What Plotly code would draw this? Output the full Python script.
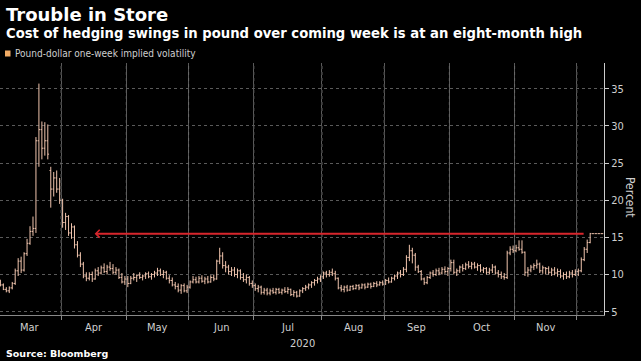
import pandas as pd
import plotly.graph_objects as go

# ---- data: pound-dollar one-week implied volatility (daily OHLC, trading days) ----
dates = pd.bdate_range("2020-03-03", "2020-12-11")

vol_open = [
    # Mar
    9.0, 8.6, 8.0, 7.8, 8.2, 8.8, 10.5, 11.8, 10.6, 12.8, 14.2, 15.8, 16.2, 28.0, 29.5, 27.0, 28.0, 24.0, 21.5, 23.0, 21.5,
    # Apr
    20.0, 17.0, 17.8, 15.6, 16.4, 14.0, 12.6, 11.4, 9.8, 9.5, 10.0, 9.4, 10.5, 10.2, 10.9, 10.4, 11.0, 10.8, 10.3, 10.6, 9.6, 9.0,
    # May
    9.4, 8.8, 9.5, 9.6, 9.9, 9.6, 9.8, 10.1, 9.7, 10.0, 10.2, 10.5, 10.0, 10.3, 9.5, 9.2, 8.6, 8.4, 7.9, 8.5, 7.8,
    # Jun
    8.3, 9.0, 9.3, 9.0, 9.5, 9.1, 9.4, 9.0, 9.6, 9.4, 11.8, 12.5, 11.2, 11.0, 10.4, 10.6, 10.0, 10.5, 9.6, 9.3, 9.6, 8.8,
    # Jul
    8.5, 8.1, 8.3, 7.6, 7.9, 7.5, 7.8, 7.6, 8.0, 7.6, 7.9, 7.7, 8.0, 7.3, 7.6, 7.1, 7.8, 8.1, 8.3, 8.6, 8.9, 9.2, 9.4,
    # Aug
    9.7, 10.2, 10.0, 10.3, 10.1, 9.5, 8.2, 8.0, 8.3, 7.9, 8.4, 8.1, 8.5, 8.2, 8.6, 8.3, 8.7, 8.4, 8.8, 8.6, 8.9,
    # Sep
    8.7, 9.2, 9.0, 9.5, 9.8, 10.2, 10.0, 10.7, 12.3, 13.2, 12.6, 11.0, 10.4, 9.4, 8.9, 9.6, 10.2, 10.0, 10.5, 10.2, 10.7, 10.4,
    # Oct
    10.8, 11.6, 10.3, 10.5, 11.0, 10.8, 11.3, 11.1, 11.4, 11.0, 11.2, 10.6, 10.8, 10.3, 10.6, 11.0, 10.2, 10.0, 9.7, 9.6, 12.9, 13.4,
    # Nov
    13.2, 13.6, 13.4, 13.0, 10.3, 10.6, 11.0, 11.2, 11.4, 10.5, 10.9, 10.8, 10.3, 10.6, 10.2, 10.4, 9.8, 10.0, 9.7, 10.2, 10.0,
    # Dec
    10.4, 10.5, 12.0, 13.4, 14.3, 15.5, 15.5, 15.5, 15.5,
]
vol_high = [
    9.3, 8.8, 8.3, 8.4, 9.0, 10.8, 12.2, 12.4, 13.0, 14.8, 16.5, 17.8, 28.5, 35.7, 30.6, 30.5, 30.2, 24.5, 23.8, 24.0, 23.0,
    20.2, 18.3, 18.0, 16.9, 16.6, 14.5, 13.0, 11.7, 10.3, 10.3, 10.4, 10.8, 11.0, 11.2, 11.5, 11.3, 11.7, 11.4, 11.0, 10.8, 10.2, 9.8,
    9.8, 9.8, 10.2, 10.0, 10.3, 10.0, 10.3, 10.4, 10.2, 10.5, 10.9, 10.8, 10.6, 10.5, 9.9, 9.6, 9.0, 8.8, 8.7, 8.8, 8.6,
    9.2, 9.8, 9.7, 9.8, 9.9, 9.7, 9.8, 9.9, 10.0, 12.0, 13.6, 13.0, 11.8, 11.3, 11.0, 11.0, 10.8, 10.7, 10.2, 10.0, 9.8, 9.2,
    8.8, 8.6, 8.5, 8.2, 8.2, 8.1, 8.2, 8.2, 8.2, 8.1, 8.3, 8.3, 8.1, 7.9, 7.8, 8.0, 8.3, 8.6, 8.8, 9.1, 9.4, 9.7, 9.9,
    10.4, 10.5, 10.6, 10.8, 10.5, 9.6, 8.6, 8.5, 8.6, 8.5, 8.6, 8.7, 8.7, 8.8, 8.8, 8.9, 8.9, 9.0, 9.1, 9.1, 9.2,
    9.4, 9.6, 9.7, 10.0, 10.4, 10.6, 11.0, 12.6, 14.0, 13.6, 12.9, 11.3, 10.6, 9.6, 9.8, 10.4, 10.6, 10.8, 10.9, 11.0, 11.1, 11.0,
    12.0, 12.0, 10.8, 11.2, 11.4, 11.6, 11.8, 11.7, 11.7, 11.5, 11.4, 11.0, 11.0, 10.9, 11.4, 11.2, 10.6, 10.4, 10.2, 13.2, 13.8, 13.9,
    14.0, 14.6, 14.6, 13.1, 11.0, 11.3, 11.5, 12.0, 11.6, 11.2, 11.0, 11.1, 10.9, 11.0, 10.8, 10.7, 10.3, 10.4, 10.5, 10.6, 10.7,
    10.8, 12.3, 13.7, 14.7, 15.6, 15.5, 15.5, 15.5, 15.5,
]
vol_low = [
    8.4, 7.9, 7.6, 7.5, 8.0, 8.6, 9.8, 10.2, 10.4, 12.5, 14.0, 15.2, 15.6, 24.5, 25.5, 26.0, 25.5, 19.0, 20.5, 21.0, 19.5,
    16.3, 16.0, 15.2, 14.8, 13.5, 12.3, 11.0, 9.5, 9.1, 9.2, 9.0, 9.3, 9.8, 10.0, 10.2, 10.0, 10.5, 10.0, 10.0, 9.4, 8.8, 8.6,
    8.3, 8.7, 9.2, 9.0, 9.4, 9.2, 9.4, 9.5, 9.3, 9.6, 9.8, 9.8, 9.5, 9.3, 8.8, 8.4, 8.0, 7.6, 7.4, 7.6, 7.5,
    8.1, 8.8, 8.8, 8.8, 8.9, 8.7, 8.8, 8.9, 9.1, 9.3, 11.4, 10.8, 10.3, 10.0, 9.8, 9.7, 9.5, 9.3, 9.0, 8.8, 8.5, 8.2,
    7.8, 7.6, 7.3, 7.3, 7.2, 7.2, 7.4, 7.3, 7.4, 7.3, 7.5, 7.4, 7.1, 7.0, 6.9, 7.0, 7.5, 7.8, 8.0, 8.2, 8.5, 8.8, 9.0,
    9.4, 9.6, 9.7, 9.8, 9.2, 8.0, 7.7, 7.6, 7.7, 7.8, 7.9, 8.0, 7.9, 8.1, 8.0, 8.2, 8.1, 8.3, 8.3, 8.5, 8.5,
    8.6, 8.8, 8.9, 9.2, 9.4, 9.6, 9.8, 10.3, 11.8, 11.5, 10.5, 10.2, 9.2, 8.6, 8.7, 9.4, 9.7, 9.8, 9.9, 10.0, 10.1, 9.8,
    10.4, 10.0, 9.8, 10.2, 10.4, 10.6, 10.8, 10.7, 10.8, 10.5, 10.3, 10.2, 10.0, 10.0, 10.2, 10.0, 9.6, 9.4, 9.3, 9.4, 12.6, 12.9,
    13.0, 13.2, 12.8, 9.8, 9.7, 10.3, 10.6, 10.8, 10.2, 10.1, 10.0, 10.0, 9.8, 9.9, 9.7, 9.5, 9.3, 9.4, 9.5, 9.6, 9.8,
    9.8, 10.3, 11.8, 12.9, 14.2, 15.5, 15.5, 15.5, 15.5,
]
vol_close = [
    8.6, 8.0, 7.8, 8.2, 8.8, 10.5, 11.8, 10.6, 12.8, 14.2, 15.8, 16.2, 28.0, 29.5, 27.0, 28.0, 26.2, 21.5, 23.0, 21.5, 20.0,
    17.0, 17.8, 15.6, 16.4, 14.0, 12.6, 11.4, 9.8, 9.5, 10.0, 9.4, 10.5, 10.2, 10.9, 10.4, 11.0, 10.8, 10.3, 10.6, 9.6, 9.0, 9.4,
    8.8, 9.5, 9.6, 9.9, 9.6, 9.8, 10.1, 9.7, 10.0, 10.2, 10.5, 10.0, 10.3, 9.5, 9.2, 8.6, 8.4, 7.9, 8.5, 7.8, 8.3,
    9.0, 9.3, 9.0, 9.5, 9.1, 9.4, 9.0, 9.6, 9.4, 11.8, 12.5, 11.2, 11.0, 10.4, 10.6, 10.0, 10.5, 9.6, 9.3, 9.6, 8.8, 8.5,
    8.1, 8.3, 7.6, 7.9, 7.5, 7.8, 7.6, 8.0, 7.6, 7.9, 7.7, 8.0, 7.3, 7.6, 7.1, 7.8, 8.1, 8.3, 8.6, 8.9, 9.2, 9.4, 9.7,
    10.2, 10.0, 10.3, 10.1, 9.5, 8.2, 8.0, 8.3, 7.9, 8.4, 8.1, 8.5, 8.2, 8.6, 8.3, 8.7, 8.4, 8.8, 8.6, 8.9, 8.7,
    9.2, 9.0, 9.5, 9.8, 10.2, 10.0, 10.7, 12.3, 13.2, 12.6, 11.0, 10.4, 9.4, 8.9, 9.6, 10.2, 10.0, 10.5, 10.2, 10.7, 10.4, 10.8,
    11.6, 10.3, 10.5, 11.0, 10.8, 11.3, 11.1, 11.4, 11.0, 11.2, 10.6, 10.8, 10.3, 10.6, 11.0, 10.2, 10.0, 9.7, 9.6, 12.9, 13.4, 13.2,
    13.6, 13.4, 13.0, 10.3, 10.6, 11.0, 11.2, 11.4, 10.5, 10.9, 10.8, 10.3, 10.6, 10.2, 10.4, 9.8, 10.0, 9.7, 10.2, 10.0, 10.4,
    10.5, 12.0, 13.4, 14.3, 15.5, 15.5, 15.5, 15.5, 15.5,
]

series_name = "Pound-dollar one-week implied volatility"
title_text = "Trouble in Store"
subtitle_text = "Cost of hedging swings in pound over coming week is at an eight-month high"
source_text = "Source: Bloomberg"
year_label = "2020"
y_ticks = [5, 10, 15, 20, 25, 30, 35]
month_labels = ["Mar", "Apr", "May", "Jun", "Jul", "Aug", "Sep", "Oct", "Nov"]

# x axis runs on trading-day index (Bloomberg style, no weekend gaps)
day_idx = list(range(len(dates)))
x_range = [-0.13, 203.67]
y_range = [4.55, 38.47]
arrow_tail = 197.3
arrow_tip = 31.8
arrow_level = vol_close[-1]

months = pd.Series(dates.month)
# gridlines/ticks at each month boundary, labels at the middle of each month
boundaries = [float(months[months == m].index[0]) - 0.5 for m in range(4, 13)]
label_pos = [float(months[months == m].index[0] + months[months == m].index[-1]) / 2 for m in range(3, 12)]

# ---- layout geometry (pixels) ----
W, H = 641, 361
ML, MR, MT, MB = 0, 37, 63, 46
PW, PH = W - ML - MR, H - MT - MB


def px(xp):
    return (xp - ML) / PW


def py(yp):
    return (H - MB - yp) / PH


BAR = "#f0c4ad"
ORANGE = "#f2ac66"
GRID = "#5a5a5a"
VGRID = "#707070"
TXT = "#cfcfcf"
TICKFONT = "DejaVu Sans Condensed, Liberation Sans Narrow, Liberation Sans, sans-serif"

# month-boundary gridlines drawn as a line trace (below the bars)
gx, gy = [], []
for b in boundaries:
    gx += [b, b, None]
    gy += [y_range[0], y_range[1], None]

fig = go.Figure()
fig.add_trace(go.Scatter(
    x=gx, y=gy, mode="lines", line=dict(color=VGRID, width=1, dash="dot"),
    showlegend=False, hoverinfo="skip",
))
# month-boundary tick marks below the axis line
fig.add_trace(go.Scatter(
    x=boundaries, y=[y_range[0] - 0.27] * len(boundaries), mode="markers",
    marker=dict(symbol="line-ns-open", size=4, line=dict(color="#888888", width=1)),
    cliponaxis=False, showlegend=False, hoverinfo="skip",
))
fig.add_trace(go.Ohlc(
    x=day_idx, open=vol_open, high=vol_high, low=vol_low, close=vol_close,
    increasing=dict(line=dict(color=BAR, width=1)),
    decreasing=dict(line=dict(color=BAR, width=1)),
    tickwidth=0.42, name=series_name, showlegend=False, hoverinfo="skip",
))

fig.update_layout(
    width=W, height=H,
    margin=dict(l=ML, r=MR, t=MT, b=MB),
    paper_bgcolor="black", plot_bgcolor="black",
    showlegend=False,
    xaxis=dict(
        type="linear", range=x_range,
        rangeslider=dict(visible=False),
        tickmode="array", tickvals=boundaries, ticktext=[" "] * len(boundaries),
        ticks="outside", ticklen=4, tickcolor="#888888",
        showgrid=True, gridcolor=GRID, griddash="dot", gridwidth=1,
        showline=True, linecolor="#888888", linewidth=1,
        tickfont=dict(family=TICKFONT, size=11, color=TXT),
        zeroline=False,
    ),
    yaxis=dict(
        side="right", range=y_range, tickvals=y_ticks,
        ticks="outside", ticklen=4, tickcolor="#cccccc",
        showgrid=True, gridcolor=GRID, griddash="dot", gridwidth=1,
        showline=True, linecolor="#cccccc", linewidth=1,
        tickfont=dict(family=TICKFONT, size=11, color=TXT),
        zeroline=False,
    ),
)

annotations = [
    dict(x=px(4), y=py(14), xref="paper", yref="paper", xanchor="left", yanchor="middle",
         text=title_text, showarrow=False,
         font=dict(family="DejaVu Sans", size=18, color="white", weight="bold")),
    dict(x=px(4), y=py(34), xref="paper", yref="paper", xanchor="left", yanchor="middle",
         text=subtitle_text, showarrow=False,
         font=dict(family="DejaVu Sans", size=13.2, color="white", weight="bold")),
    dict(x=px(13), y=py(53.5), xref="paper", yref="paper", xanchor="left", yanchor="middle",
         text=series_name, showarrow=False,
         font=dict(family=TICKFONT, size=10, color=TXT)),
    dict(x=px(630), y=py(197), xref="paper", yref="paper", xanchor="center", yanchor="middle",
         text="Percent", textangle=90, showarrow=False,
         font=dict(family=TICKFONT, size=12, color=TXT)),
    dict(x=px(302), y=py(343), xref="paper", yref="paper", xanchor="center", yanchor="middle",
         text=year_label, showarrow=False,
         font=dict(family=TICKFONT, size=11, color=TXT)),
    dict(x=px(4), y=py(353), xref="paper", yref="paper", xanchor="left", yanchor="middle",
         text=source_text, showarrow=False,
         font=dict(family="DejaVu Sans", size=9.5, color="white", weight="bold")),
    dict(x=arrow_tip, y=arrow_level, ax=arrow_tail, ay=arrow_level,
         xref="x", yref="y", axref="x", ayref="y", text="",
         showarrow=True, arrowhead=4, arrowsize=0.75, arrowwidth=2, arrowcolor="#d8262c"),
]
for lbl, pos in zip(month_labels, label_pos):
    annotations.append(dict(x=pos, y=py(327), xref="x", yref="paper", xanchor="center",
                            yanchor="middle", text=lbl, showarrow=False,
                            font=dict(family=TICKFONT, size=11, color=TXT)))
fig.update_layout(annotations=annotations)

fig.add_shape(type="rect", xref="paper", yref="paper",
              x0=px(5), x1=px(10.5), y0=py(56.5), y1=py(50.5),
              fillcolor=ORANGE, line=dict(width=0))

fig.write_html("out.html", config={"displayModeBar": False},
               post_script="document.body.style.margin='0';document.body.style.padding='0';")
